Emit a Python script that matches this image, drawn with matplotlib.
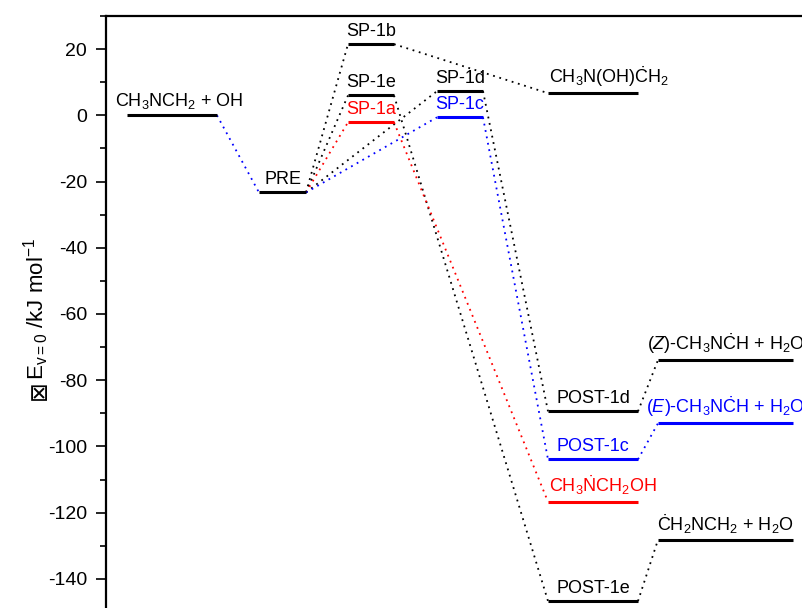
import matplotlib
matplotlib.use("Agg")
import matplotlib.pyplot as plt

# energy levels (kJ/mol), column index, colour
names = ["CH3NCH2+OH", "PRE", "SP-1b", "SP-1e", "SP-1a", "SP-1d", "SP-1c",
         "CH3N(OH)CH2", "POST-1d", "POST-1c", "CH3NCH2OH", "POST-1e",
         "Z-CH3NCH+H2O", "E-CH3NCH+H2O", "CH2NCH2+H2O"]
energies = [0.0, -23.3, 21.5, 6.0, -2.1, 7.3, -0.6,
            6.7, -89.4, -103.9, -116.7, -146.7,
            -73.9, -93.0, -128.2]
columns = [0, 1, 2, 2, 2, 3, 3, 4, 4, 4, 4, 4, 5, 5, 5]
colors = ["black", "black", "black", "black", "red", "black", "blue",
          "black", "black", "blue", "red", "black",
          "black", "blue", "black"]
labels = [r"CH$_3$NCH$_2$ + OH", "PRE", "SP-1b", "SP-1e", "SP-1a", "SP-1d", "SP-1c",
          r"CH$_3$N(OH)$\dot{\rm C}$H$_2$", "POST-1d", "POST-1c",
          r"CH$_3$$\dot{\rm N}$CH$_2$OH", "POST-1e",
          r"$\mathit{(Z)}$-CH$_3$N$\dot{\rm C}$H + H$_2$O",
          r"$\mathit{(E)}$-CH$_3$N$\dot{\rm C}$H + H$_2$O",
          r"$\dot{\rm C}$H$_2$NCH$_2$ + H$_2$O"]

# dotted connections (from, to, colour)
links = [("CH3NCH2+OH", "PRE", "blue"),
         ("PRE", "SP-1b", "black"), ("PRE", "SP-1e", "black"),
         ("PRE", "SP-1a", "red"), ("PRE", "SP-1d", "black"),
         ("PRE", "SP-1c", "blue"),
         ("SP-1b", "CH3N(OH)CH2", "black"),
         ("SP-1e", "POST-1e", "black"),
         ("SP-1a", "CH3NCH2OH", "red"),
         ("SP-1d", "POST-1d", "black"),
         ("SP-1c", "POST-1c", "blue"),
         ("POST-1d", "Z-CH3NCH+H2O", "black"),
         ("POST-1c", "E-CH3NCH+H2O", "blue"),
         ("POST-1e", "CH2NCH2+H2O", "black")]

# layout: horizontal extent of each column (reaction coordinate units)
col_span = [(127, 217), (259, 306), (348, 394), (437, 483), (548, 638), (658, 793)]
label_dx = {"CH3NCH2+OH": 7, "CH3N(OH)CH2": 16, "CH3NCH2OH": 10}

plt.rcParams['font.family'] = ['Liberation Sans', 'DejaVu Sans']
plt.rcParams['mathtext.fontset'] = 'custom'
plt.rcParams['mathtext.rm'] = 'Liberation Sans'
plt.rcParams['mathtext.it'] = 'Liberation Sans:italic'
plt.rcParams['axes.unicode_minus'] = False

W, H = 803, 608
fig = plt.figure(figsize=(W / 100, H / 100), dpi=100)
ax = fig.add_axes([106 / W, 1 - 612 / H, (830 - 106) / W, (612 - 16) / H])
ax.set_xlim(106, 830)
ax.set_ylim(-150, 30)

idx = {n: i for i, n in enumerate(names)}

for a, b, c in links:
    i, j = idx[a], idx[b]
    x0 = col_span[columns[i]][1]
    x1 = col_span[columns[j]][0]
    ax.plot([x0, x1], [energies[i], energies[j]], color=c, lw=1.3,
            linestyle=(0, (1, 2.6)), zorder=1)

for i, n in enumerate(names):
    xa, xb = col_span[columns[i]]
    ax.plot([xa, xb], [energies[i], energies[i]], color=colors[i], lw=2.2,
            solid_capstyle='butt', zorder=2)
    ax.text((xa + xb) / 2 + label_dx.get(n, 0), energies[i] + 1.3, labels[i],
            color=colors[i], ha='center', va='bottom', fontsize=13)

ax.set_yticks(range(-140, 21, 20))
ax.set_yticks(range(-150, 31, 10), minor=True)
ax.set_xticks([])
ax.tick_params(axis='y', which='major', direction='out', length=7.5, width=1.2,
               labelsize=14, pad=6)
ax.tick_params(axis='y', which='minor', direction='out', length=4, width=1.2)
for s in ax.spines.values():
    s.set_linewidth(1.6)

# y label: the box glyph comes from DejaVu Sans, the rest in Arial-like font
ylab = fig.text(36 / W, 1 - 238 / H, r"E$_{\rm v=0}$ /kJ mol$^{{-}1}$",
                rotation=90, ha='center', va='top', fontsize=16)
fig.canvas.draw()
bb = ylab.get_window_extent(fig.canvas.get_renderer())
fig.text(39 / W, (bb.y0 - 0.5) / H, "⊠", rotation=90, ha='center', va='top',
         fontsize=17, family='DejaVu Sans')

fig.savefig("out.png", dpi=100)
